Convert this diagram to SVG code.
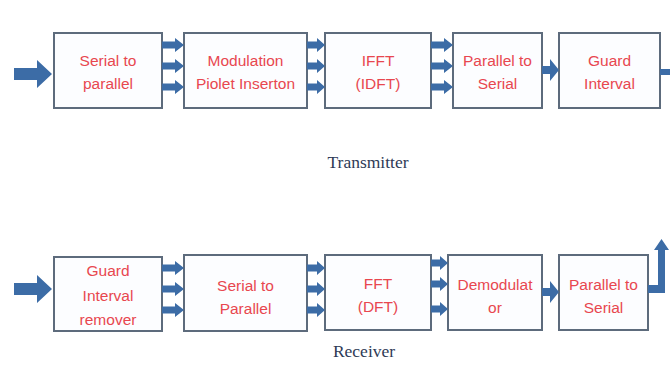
<svg xmlns="http://www.w3.org/2000/svg" width="670" height="365" viewBox="0 0 670 365">
  <style>
    .box { fill: #fcfdff; stroke: #5d6b7c; stroke-width: 2; }
    .lbl { font-family: "Liberation Sans", Arial, sans-serif; font-size: 15.5px; fill: #e8474f; text-anchor: middle; }
    .cap { font-family: "Liberation Serif", "Times New Roman", serif; font-size: 17.5px; fill: #2e3a56; text-anchor: middle; }
    .arr { fill: #3c6ca6; }
  </style>
  <rect width="670" height="365" fill="#ffffff"/>

  <!-- Transmitter chain -->
  <g id="tx-s2p">
    <rect class="box" x="54" y="33" width="108" height="75"/>
    <text class="lbl" x="108" y="66">Serial to</text>
    <text class="lbl" x="108" y="89">parallel</text>
  </g>
  <g id="tx-mod">
    <rect class="box" x="184" y="33" width="123" height="75"/>
    <text class="lbl" x="245.5" y="66">Modulation</text>
    <text class="lbl" x="245.5" y="89">Piolet Inserton</text>
  </g>
  <g id="tx-ifft">
    <rect class="box" x="325" y="33" width="106" height="75"/>
    <text class="lbl" x="378" y="66">IFFT</text>
    <text class="lbl" x="378" y="89">(IDFT)</text>
  </g>
  <g id="tx-p2s">
    <rect class="box" x="453" y="33" width="89" height="75"/>
    <text class="lbl" x="497.5" y="66">Parallel to</text>
    <text class="lbl" x="497.5" y="89">Serial</text>
  </g>
  <g id="tx-guard">
    <rect class="box" x="559" y="33" width="101" height="75"/>
    <text class="lbl" x="609.5" y="66">Guard</text>
    <text class="lbl" x="609.5" y="89">Interval</text>
  </g>
  <g id="tx-caption">
    <text class="cap" x="368" y="168">Transmitter</text>
  </g>

  <!-- Receiver chain -->
  <g id="rx-guard">
    <rect class="box" x="54" y="257" width="108" height="74"/>
    <text class="lbl" x="108" y="276">Guard</text>
    <text class="lbl" x="108" y="301">Interval</text>
    <text class="lbl" x="108" y="325">remover</text>
  </g>
  <g id="rx-s2p">
    <rect class="box" x="184" y="255" width="123" height="76"/>
    <text class="lbl" x="245.5" y="291">Serial to</text>
    <text class="lbl" x="245.5" y="314">Parallel</text>
  </g>
  <g id="rx-fft">
    <rect class="box" x="325" y="255" width="106" height="75"/>
    <text class="lbl" x="378" y="289">FFT</text>
    <text class="lbl" x="378" y="312">(DFT)</text>
  </g>
  <g id="rx-demod">
    <rect class="box" x="448" y="255" width="94" height="75"/>
    <text class="lbl" x="495" y="290">Demodulat</text>
    <text class="lbl" x="495" y="313">or</text>
  </g>
  <g id="rx-p2s">
    <rect class="box" x="559" y="255" width="89" height="75"/>
    <text class="lbl" x="603.5" y="290">Parallel to</text>
    <text class="lbl" x="603.5" y="313">Serial</text>
  </g>
  <g id="rx-caption">
    <text class="cap" x="364" y="357">Receiver</text>
  </g>

  <!-- Connectors -->
  <g id="connectors" class="arr">
    <!-- transmitter input -->
    <polygon points="14,68 37,68 37,60 52,74 37,88 37,80 14,80"/>
    <!-- s2p -> modulation -->
    <polygon points="162,41.5 175,41.5 175,38 184,45 175,52 175,48.5 162,48.5"/>
    <polygon points="162,62.5 175,62.5 175,59 184,66 175,73 175,69.5 162,69.5"/>
    <polygon points="162,83.5 175,83.5 175,80 184,87 175,94 175,90.5 162,90.5"/>
    <!-- modulation -> IFFT -->
    <polygon points="307,41.5 317,41.5 317,38 325,45 317,52 317,48.5 307,48.5"/>
    <polygon points="307,62.5 317,62.5 317,59 325,66 317,73 317,69.5 307,69.5"/>
    <polygon points="307,83.5 317,83.5 317,80 325,87 317,94 317,90.5 307,90.5"/>
    <!-- IFFT -> p2s -->
    <polygon points="431,41.5 444,41.5 444,38 453,45 444,52 444,48.5 431,48.5"/>
    <polygon points="431,62.5 444,62.5 444,59 453,66 444,73 444,69.5 431,69.5"/>
    <polygon points="431,83.5 444,83.5 444,80 453,87 444,94 444,90.5 431,90.5"/>
    <!-- p2s -> guard -->
    <polygon points="542,66 550,66 550,59 559,70 550,81 550,74 542,74"/>
    <!-- transmitter output -->
    <rect x="660" y="69" width="10" height="6"/>

    <!-- receiver input -->
    <polygon points="14,283 37,283 37,275 52,289 37,303 37,295 14,295"/>
    <!-- guard remover -> s2p -->
    <polygon points="162,264.5 175,264.5 175,261 184,268 175,275 175,271.5 162,271.5"/>
    <polygon points="162,285.5 175,285.5 175,282 184,289 175,296 175,292.5 162,292.5"/>
    <polygon points="162,306.5 175,306.5 175,303 184,310 175,317 175,313.5 162,313.5"/>
    <!-- s2p -> FFT -->
    <polygon points="307,264.5 317,264.5 317,261 325,268 317,275 317,271.5 307,271.5"/>
    <polygon points="307,285.5 317,285.5 317,282 325,289 317,296 317,292.5 307,292.5"/>
    <polygon points="307,306.5 317,306.5 317,303 325,310 317,317 317,313.5 307,313.5"/>
    <!-- FFT -> demodulator -->
    <polygon points="431,259.5 440,259.5 440,256 448,263 440,270 440,266.5 431,266.5"/>
    <polygon points="431,280.5 440,280.5 440,277 448,284 440,291 440,287.5 431,287.5"/>
    <polygon points="431,305.5 440,305.5 440,302 448,309 440,316 440,312.5 431,312.5"/>
    <!-- demodulator -> p2s -->
    <polygon points="542,288 550,288 550,281 559,292 550,303 550,296 542,296"/>
    <!-- receiver output -->
    <polygon points="648,285 658,285 658,250 654,250 661.5,239 669,250 665,250 665,293 648,293"/>
  </g>
</svg>
